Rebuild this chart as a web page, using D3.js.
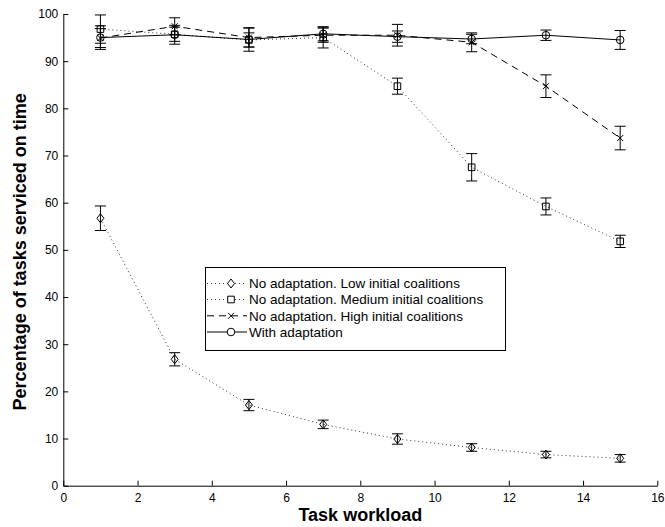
<!DOCTYPE html>
<html>
<head>
<meta charset="utf-8">
<script src="https://cdn.jsdelivr.net/npm/d3@7/dist/d3.min.js"></script>
<style>
  body { margin: 0; background: #fff; }
  svg text { font-family: "Liberation Sans", Arial, sans-serif; }
</style>
</head>
<body>
<div id="chart"></div>
<script>
// task workload on the x axis
const workload = [1, 3, 5, 7, 9, 11, 13, 15];

// means and error bar half-widths
const lowMean = [56.7, 26.8, 17.1, 13.0, 9.9, 8.1, 6.6, 5.8];
const lowErr = [2.6, 1.4, 1.2, 0.9, 1.1, 0.8, 0.7, 0.8];
const medMean = [96.8, 95.7, 94.5, 95.0, 84.7, 67.5, 59.2, 51.8];
const medErr = [3.0, 1.5, 1.5, 2.2, 1.7, 2.9, 1.8, 1.3];
const highMean = [94.9, 97.4, 95.0, 95.5, 95.5, 94.0, 84.7, 73.7];
const highErr = [2.0, 1.8, 2.0, 1.5, 2.3, 2.0, 2.4, 2.5];
const adaptMean = [95.0, 95.6, 94.6, 95.8, 95.2, 94.7, 95.5, 94.5];
const adaptErr = [2.5, 2.0, 2.5, 1.5, 1.2, 1.0, 1.1, 2.0];

const xTicks = [0, 2, 4, 6, 8, 10, 12, 14, 16];
const yTicks = [0, 10, 20, 30, 40, 50, 60, 70, 80, 90, 100];

const seriesNames = [
  "No adaptation. Low initial coalitions",
  "No adaptation. Medium initial coalitions",
  "No adaptation. High initial coalitions",
  "With adaptation"
];

const width = 665, height = 527;
const x = d3.scaleLinear().domain([0, 16]).range([63.3, 657.3]);
const y = d3.scaleLinear().domain([0, 100]).range([485.7, 14]);

const svg = d3.select("#chart").append("svg")
  .attr("width", width)
  .attr("height", height);

const series = [
  { name: seriesNames[0], mean: lowMean, err: lowErr, marker: "diamond", dash: "1,3", color: "#333" },
  { name: seriesNames[1], mean: medMean, err: medErr, marker: "square", dash: "1,3", color: "#333" },
  { name: seriesNames[2], mean: highMean, err: highErr, marker: "cross", dash: "7,5", color: "#000" },
  { name: seriesNames[3], mean: adaptMean, err: adaptErr, marker: "circle", dash: null, color: "#000" }
];

// marker shapes drawn as paths centred at 0,0
function markerPath(type) {
  if (type === "diamond") return "M0,-4.5L3.5,0L0,4.5L-3.5,0Z";
  if (type === "square") return "M-3.3,-3.3H3.3V3.3H-3.3Z";
  if (type === "cross") return "M-3,-3L3,3M-3,3L3,-3";
  return "M3.8,0A3.8,3.8 0 1,1 -3.8,0A3.8,3.8 0 1,1 3.8,0Z";
}

// axes (ticks point inward, matlab style)
const xAxis = d3.axisBottom(x).tickValues(xTicks).tickSizeInner(-5).tickSizeOuter(0).tickPadding(8);
const yAxis = d3.axisLeft(y).tickValues(yTicks).tickSizeInner(-5).tickSizeOuter(0).tickPadding(5);

const gx = svg.append("g").attr("transform", `translate(0,${y(0)})`).call(xAxis);
const gy = svg.append("g").attr("transform", `translate(${x(0)},0)`).call(yAxis);
[gx, gy].forEach(g => {
  g.selectAll("path, line").attr("stroke", "#000").attr("stroke-width", 1);
  g.selectAll("text").attr("font-size", 12).attr("fill", "#000")
    .style("font-family", '"Liberation Sans", Arial, sans-serif');
});

svg.append("text")
  .attr("x", (x(0) + x(16)) / 2)
  .attr("y", 521)
  .attr("text-anchor", "middle")
  .attr("font-size", 18)
  .attr("font-weight", "bold")
  .text("Task workload");

svg.append("text")
  .attr("transform", `translate(26,${(y(0) + y(100)) / 2 + 2}) rotate(-90)`)
  .attr("text-anchor", "middle")
  .attr("font-size", 18)
  .attr("font-weight", "bold")
  .text("Percentage of tasks serviced on time");

const line = d3.line()
  .x((d, i) => x(workload[i]))
  .y(d => y(d));

series.forEach(s => {
  const g = svg.append("g");
  g.append("path")
    .datum(s.mean)
    .attr("d", line)
    .attr("fill", "none")
    .attr("stroke", s.color)
    .attr("stroke-width", 1)
    .attr("stroke-dasharray", s.dash);

  // error bars
  const eb = g.selectAll(".eb").data(s.mean).enter().append("g");
  eb.append("line")
    .attr("x1", (d, i) => x(workload[i])).attr("x2", (d, i) => x(workload[i]))
    .attr("y1", (d, i) => y(d - s.err[i])).attr("y2", (d, i) => y(d + s.err[i]));
  eb.append("line")
    .attr("x1", (d, i) => x(workload[i]) - 5.5).attr("x2", (d, i) => x(workload[i]) + 5.5)
    .attr("y1", (d, i) => y(d - s.err[i])).attr("y2", (d, i) => y(d - s.err[i]));
  eb.append("line")
    .attr("x1", (d, i) => x(workload[i]) - 5.5).attr("x2", (d, i) => x(workload[i]) + 5.5)
    .attr("y1", (d, i) => y(d + s.err[i])).attr("y2", (d, i) => y(d + s.err[i]));
  eb.selectAll("line").attr("stroke", "#000").attr("stroke-width", 1);

  g.selectAll(".mk").data(s.mean).enter().append("path")
    .attr("transform", (d, i) => `translate(${x(workload[i])},${y(d)})`)
    .attr("d", markerPath(s.marker))
    .attr("fill", "none")
    .attr("stroke", "#000")
    .attr("stroke-width", 1);
});

// legend
const legend = svg.append("g");
legend.append("rect")
  .attr("x", 205.5).attr("y", 267.5)
  .attr("width", 300).attr("height", 83)
  .attr("fill", "#fff")
  .attr("stroke", "#000")
  .attr("stroke-width", 1);

const rowY = [283.5, 299.5, 315.8, 332];
series.forEach((s, i) => {
  const r = legend.append("g").attr("transform", `translate(0,${rowY[i]})`);
  r.append("line")
    .attr("x1", 207).attr("x2", 247).attr("y1", 0).attr("y2", 0)
    .attr("stroke", s.color).attr("stroke-width", 1)
    .attr("stroke-dasharray", s.dash);
  r.append("path")
    .attr("transform", "translate(231,0)")
    .attr("d", markerPath(s.marker))
    .attr("fill", "#fff")
    .attr("stroke", "#000")
    .attr("stroke-width", 1);
  r.append("text")
    .attr("x", 249).attr("y", 4.8)
    .attr("font-size", 13.5)
    .text(s.name);
});
</script>
</body>
</html>
